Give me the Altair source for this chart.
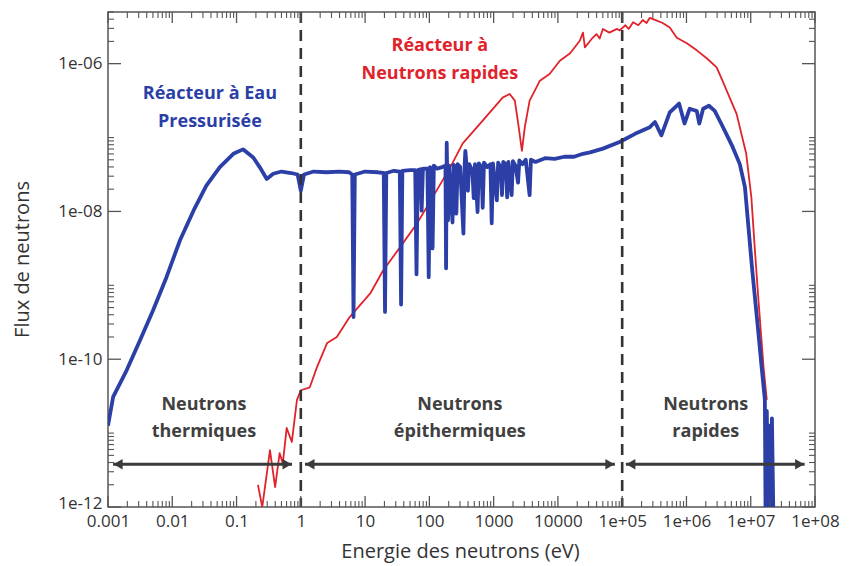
import altair as alt
import pandas as pd

# ---------------- data ----------------
# PWR (Réacteur à Eau Pressurisée) spectrum: log10(energy eV), log10(flux)
pwr_log_e = [
    -3.00, -2.92, -2.71, -2.50, -2.30, -2.09, -1.88, -1.67, -1.47, -1.26,
    -1.05, -0.90, -0.74, -0.64, -0.53, -0.43, -0.30, -0.15, -0.05, 0.00,
    0.05, 0.20, 0.40, 0.60, 0.75, 0.80, 0.82, 0.84, 1.00, 1.20,
    1.29, 1.31, 1.33, 1.45, 1.54, 1.56, 1.58, 1.70, 1.78, 1.80,
    1.82, 1.86, 1.88, 1.90, 1.97, 1.99, 2.01, 2.03, 2.05, 2.07,
    2.12, 2.20, 2.25, 2.26, 2.27, 2.29, 2.31, 2.36, 2.38, 2.40,
    2.42, 2.44, 2.48, 2.53, 2.55, 2.56, 2.58, 2.60, 2.62, 2.67,
    2.69, 2.71, 2.75, 2.77, 2.81, 2.83, 2.85, 2.90, 2.95, 2.97,
    2.99, 3.05, 3.07, 3.11, 3.13, 3.15, 3.19, 3.21, 3.23, 3.28,
    3.30, 3.34, 3.38, 3.40, 3.45, 3.50, 3.56, 3.58, 3.65, 3.80,
    3.95, 4.10, 4.25, 4.39, 4.50, 4.70, 4.96, 5.20, 5.43, 5.51,
    5.61, 5.74, 5.885, 5.97, 6.05, 6.16, 6.20, 6.26, 6.35, 6.44,
    6.54, 6.62, 6.72, 6.83, 6.91, 7.02, 7.12, 7.17, 7.22, 7.23,
    7.25, 7.27, 7.29, 7.31, 7.33, 7.35,
]
pwr_log_flux = [
    -10.90, -10.51, -10.15, -9.74, -9.34, -8.89, -8.39, -7.99, -7.65, -7.40,
    -7.22, -7.16, -7.27, -7.40, -7.56, -7.49, -7.46, -7.48, -7.50, -7.72,
    -7.50, -7.46, -7.47, -7.46, -7.47, -7.50, -9.43, -7.50, -7.46, -7.47,
    -7.48, -9.36, -7.48, -7.45, -7.46, -9.26, -7.45, -7.44, -7.44, -8.85,
    -7.44, -7.43, -7.99, -7.42, -7.42, -8.89, -7.40, -7.42, -8.50, -7.38,
    -7.42, -7.40, -7.38, -8.77, -7.07, -8.12, -7.38, -8.15, -7.37, -7.40,
    -8.03, -7.36, -7.40, -8.30, -7.35, -7.18, -7.40, -7.72, -7.36, -7.45,
    -7.82, -7.36, -8.01, -7.35, -7.40, -7.95, -7.34, -7.40, -7.36, -8.16,
    -7.35, -7.85, -7.34, -7.40, -7.78, -7.33, -7.36, -7.81, -7.33, -7.78,
    -7.32, -7.38, -7.61, -7.31, -7.36, -7.30, -7.78, -7.30, -7.33, -7.28,
    -7.29, -7.26, -7.26, -7.22, -7.20, -7.15, -7.06, -6.95, -6.86, -6.79,
    -6.97, -6.66, -6.54, -6.81, -6.61, -6.64, -6.81, -6.61, -6.57, -6.64,
    -6.81, -6.95, -7.13, -7.36, -7.67, -8.76, -9.65, -10.11, -10.55, -12.00,
    -10.70, -12.00, -10.90, -12.00, -10.80, -12.00,
]

# Fast reactor (Réacteur à Neutrons rapides) spectrum
rnr_log_e = [
    -0.667, -0.60, -0.48, -0.40, -0.33, -0.28, -0.22, -0.14, -0.06, 0.00,
    0.14, 0.25, 0.41, 0.56, 0.76, 1.08, 1.28, 1.54, 1.81, 2.05,
    2.32, 2.52, 2.83, 3.14, 3.25, 3.33, 3.39, 3.44, 3.485, 3.56,
    3.72, 3.87, 4.03, 4.19, 4.34, 4.39, 4.42, 4.54, 4.60, 4.65,
    4.70, 4.80, 4.92, 4.96, 5.05, 5.10, 5.17, 5.25, 5.32, 5.38,
    5.43, 5.52, 5.63, 5.74, 5.85, 6.00, 6.16, 6.32, 6.47, 6.56,
    6.78, 6.93, 7.01, 7.06, 7.12, 7.20, 7.25,
]
rnr_log_flux = [
    -11.70, -12.00, -11.23, -11.73, -11.27, -11.41, -10.93, -11.12, -10.55, -10.42,
    -10.38, -10.11, -9.78, -9.70, -9.43, -9.11, -8.80, -8.49, -8.16, -7.81,
    -7.41, -7.08, -6.77, -6.46, -6.41, -6.50, -6.86, -7.18, -6.86, -6.50,
    -6.23, -6.14, -5.96, -5.86, -5.69, -5.58, -5.78, -5.65, -5.60, -5.66,
    -5.53, -5.58, -5.53, -5.55, -5.48, -5.53, -5.44, -5.48, -5.41, -5.45,
    -5.38, -5.41, -5.45, -5.51, -5.65, -5.72, -5.82, -5.93, -6.05, -6.23,
    -6.68, -7.22, -7.81, -8.46, -9.20, -10.11, -10.55,
]

# region separators (eV)
boundaries = [1.0, 1.0e5]

# region arrows
arrow_start = [0.0012, 1.16, 1.14e5]
arrow_end = [0.73, 7.7e4, 6.9e7]
arrow_flux = 3.8e-12

# annotations
label_text = ["Réacteur à Eau", "Pressurisée", "Réacteur à", "Neutrons rapides",
              "Neutrons", "thermiques", "Neutrons", "épithermiques", "Neutrons", "rapides"]
label_e = [0.0385, 0.0385, 145.5, 145.5, 0.0311, 0.0311, 298.0, 298.0, 2.0e6, 2.0e6]
label_flux = [3.94e-7, 1.64e-7, 1.75e-6, 7.33e-7, 2.39e-11, 1.03e-11, 2.39e-11, 1.03e-11, 2.39e-11, 1.03e-11]
label_group = ["pwr", "pwr", "rnr", "rnr", "zone", "zone", "zone", "zone", "zone", "zone"]

x_tick_values = [1e-3, 1e-2, 1e-1, 1, 10, 100, 1e3, 1e4, 1e5, 1e6, 1e7, 1e8]
x_tick_labels = ["0.001", "0.01", "0.1", "1", "10", "100", "1000", "10000",
                 "1e+05", "1e+06", "1e+07", "1e+08"]
y_tick_values = [1e-12, 1e-10, 1e-8, 1e-6]
y_tick_labels = ["1e-12", "1e-10", "1e-08", "1e-06"]

# ---------------- build tables ----------------
pwr = pd.DataFrame({"E": [10 ** v for v in pwr_log_e], "F": [10 ** v for v in pwr_log_flux]})
rnr = pd.DataFrame({"E": [10 ** v for v in rnr_log_e], "F": [10 ** v for v in rnr_log_flux]})
bounds = pd.DataFrame({"E": boundaries})
arrows = pd.DataFrame({"E": arrow_start, "E2": arrow_end, "F": [arrow_flux] * 3})
labels = pd.DataFrame({"E": label_e, "F": label_flux, "t": label_text, "g": label_group})

x_minor = [m * 10.0 ** d for d in range(-3, 8) for m in range(2, 10)]
y_minor = [m * 10.0 ** d for d in (-12, -10, -8, -6) for m in range(2, 10) if m * 10.0 ** d < 5e-6]
y_minor += [1e-11, 1e-9, 1e-7]
xmaj = pd.DataFrame({"E": x_tick_values})
xmin = pd.DataFrame({"E": x_minor})
ymaj = pd.DataFrame({"F": y_tick_values})
ymin = pd.DataFrame({"F": y_minor})

W, H = 707, 495
FONT = "Open Sans"
GRAY = "#3a3a3a"
BLUE = "#2b3fa6"
RED = "#e0232b"

xs = alt.Scale(type="log", domain=[1e-3, 1e8])
ys = alt.Scale(type="log", domain=[1e-12, 5e-6])

x_label_expr = "[" + ",".join("'%s'" % s for s in x_tick_labels) + "][round(log(datum.value)/LN10)+3]"
y_label_expr = "[" + ",".join("'%s'" % s for s in y_tick_labels) + "][round((log(datum.value)/LN10+12)/2)]"

x_axis = alt.Axis(
    values=x_tick_values, labelExpr=x_label_expr, ticks=False, domain=False, grid=False,
    labelFlush=False, labelOverlap=False, labelBound=False, labelPadding=6,
    labelFont=FONT, labelFontSize=17, labelColor="#333333",
    title="Energie des neutrons (eV)", titleFont=FONT, titleFontSize=20,
    titleFontWeight="normal", titleColor="#333333",
    titleX=352, titleY=44, titleBaseline="middle", titleAlign="center")
y_axis = alt.Axis(
    values=y_tick_values, labelExpr=y_label_expr, ticks=False, domain=False, grid=False,
    labelFlush=False, labelOverlap=False, labelBound=False, labelPadding=6,
    labelOffset={"condition": {"test": "datum.value < 1e-11", "value": -4}, "value": 0},
    labelFont=FONT, labelFontSize=17, labelColor="#333333",
    title="Flux de neutrons", titleFont=FONT, titleFontSize=20,
    titleFontWeight="normal", titleColor="#333333",
    titleX=-86, titleY=247, titleAngle=-90, titleBaseline="middle", titleAlign="center")

X = alt.X("E:Q", scale=xs, axis=x_axis)
Y = alt.Y("F:Q", scale=ys, axis=y_axis)

MAJ, MIN = 11, 6
tick_color = "#555555"
ticks = [
    alt.Chart(xmaj).mark_rule(color=tick_color, strokeWidth=1.3).encode(x=X, y=alt.value(H), y2=alt.value(H - MAJ)),
    alt.Chart(xmin).mark_rule(color=tick_color, strokeWidth=1.1).encode(x=X, y=alt.value(H), y2=alt.value(H - MIN)),
    alt.Chart(xmaj).mark_rule(color=tick_color, strokeWidth=1.3).encode(x=X, y=alt.value(0), y2=alt.value(MAJ)),
    alt.Chart(xmin).mark_rule(color=tick_color, strokeWidth=1.1).encode(x=X, y=alt.value(0), y2=alt.value(MIN)),
    alt.Chart(ymaj).mark_rule(color=tick_color, strokeWidth=1.3).encode(y=Y, x=alt.value(0), x2=alt.value(MAJ + 2)),
    alt.Chart(ymin).mark_rule(color=tick_color, strokeWidth=1.1).encode(y=Y, x=alt.value(0), x2=alt.value(MIN)),
    alt.Chart(ymaj).mark_rule(color=tick_color, strokeWidth=1.3).encode(y=Y, x=alt.value(W), x2=alt.value(W - MAJ - 2)),
    alt.Chart(ymin).mark_rule(color=tick_color, strokeWidth=1.1).encode(y=Y, x=alt.value(W), x2=alt.value(W - MIN)),
]

rnr_line = alt.Chart(rnr).mark_line(color=RED, strokeWidth=1.8, clip=True, strokeJoin="round").encode(x=X, y=Y)
pwr_line = alt.Chart(pwr).mark_line(color=BLUE, strokeWidth=3.8, clip=True, strokeJoin="round").encode(x=X, y=Y)

dashes = alt.Chart(bounds).mark_rule(color="#333333", strokeWidth=2.6, strokeDash=[11, 7]).encode(x=X)

arrow_lines = alt.Chart(arrows).mark_rule(color=GRAY, strokeWidth=3).encode(x=X, x2="E2:Q", y=Y)
heads_l = alt.Chart(arrows).mark_point(shape="triangle-left", filled=True, color=GRAY, size=110,
                                       opacity=1, xOffset=5).encode(x=X, y=Y)
heads_r = alt.Chart(arrows).mark_point(shape="triangle-right", filled=True, color=GRAY, size=110,
                                       opacity=1, xOffset=-5).encode(x=alt.X("E2:Q", scale=xs, axis=x_axis), y=Y)

texts = alt.Chart(labels).mark_text(font=FONT, fontSize=18, fontWeight="bold", baseline="middle",
                                    align="center").encode(
    x=X, y=Y, text="t:N",
    color=alt.Color("g:N", scale=alt.Scale(domain=["pwr", "rnr", "zone"], range=[BLUE, RED, "#404040"]),
                    legend=None))

chart = alt.layer(
    rnr_line, pwr_line, dashes, arrow_lines, heads_l, heads_r, texts, *ticks
).properties(
    width=W, height=H,
    autosize=alt.AutoSizeParams(type="none"),
    padding={"left": 108, "top": 12, "right": 34, "bottom": 59},
    background="white",
).configure_view(stroke="#555555", strokeWidth=1.5)

chart.save("out.html", embed_options={"renderer": "svg", "actions": False})
